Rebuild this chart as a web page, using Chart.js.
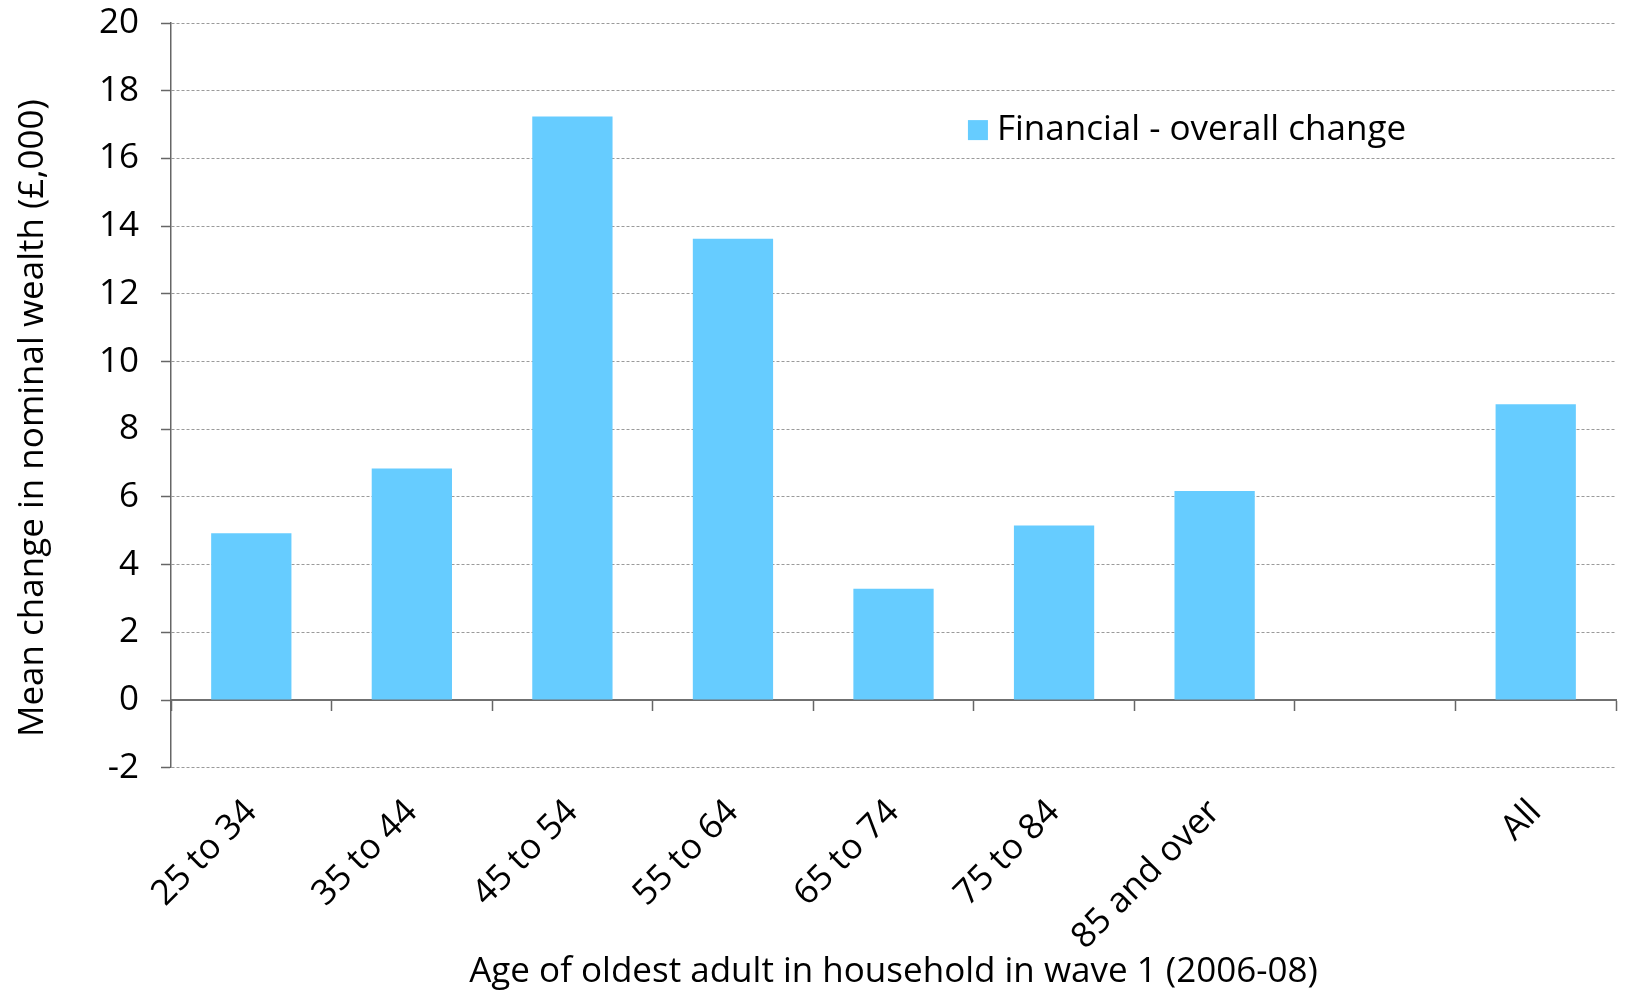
<!DOCTYPE html>
<html>
<head>
<meta charset="utf-8">
<script src="https://cdn.jsdelivr.net/npm/chart.js@4"></script>
<style>
  html, body { margin: 0; padding: 0; background: #fff; }
  #wrap { width: 1630px; height: 990px; }
</style>
</head>
<body>
<div id="wrap"><canvas id="chartRiqueza"></canvas></div>
<script>
// Categorias de edad (hueco vacio antes de "All")
const edades = ['25 to 34', '35 to 44', '45 to 54', '55 to 64', '65 to 74', '75 to 84', '85 and over', '', 'All'];
// Cambio medio en riqueza financiera nominal (miles de libras)
const financiero = [4.93, 6.84, 17.24, 13.63, 3.29, 5.16, 6.18, null, 8.74];
const serieNombre = 'Financial - overall change';

const fuente = "'Open Sans', sans-serif";
const tam = 35;
const gris = '#666666';

// Leyenda dibujada dentro del area del grafico
const leyendaInterna = {
  id: 'leyendaInterna',
  afterDraw(chart) {
    const { ctx, chartArea } = chart;
    const ds = chart.data.datasets[0];
    const x = chartArea.left + (chartArea.right - chartArea.left) * 0.5515;
    const y = chartArea.top + (chartArea.bottom - chartArea.top) * 0.1438;
    ctx.save();
    ctx.fillStyle = ds.backgroundColor;
    ctx.fillRect(x, y - 10, 20, 20);
    ctx.fillStyle = '#000';
    ctx.font = tam + 'px ' + fuente;
    ctx.textBaseline = 'middle';
    ctx.fillText(ds.label, x + 29, y);
    ctx.restore();
  }
};

new Chart(document.getElementById('chartRiqueza'), {
  type: 'bar',
  data: {
    labels: edades,
    datasets: [{
      label: serieNombre,
      data: financiero,
      backgroundColor: '#66CCFF',
      barPercentage: 0.5,
      categoryPercentage: 1
    }]
  },
  options: {
    responsive: true,
    maintainAspectRatio: false,
    animation: false,
    layout: { padding: { top: 0, right: 14, bottom: 0, left: 12 } },
    plugins: {
      legend: { display: false },
      tooltip: { enabled: false }
    },
    scales: {
      x: {
        grid: { display: false },
        border: { display: false },
        ticks: {
          color: '#000',
          font: { family: fuente, size: tam },
          maxRotation: 45,
          minRotation: 45,
          padding: 16
        },
        title: {
          display: true,
          text: 'Age of oldest adult in household in wave 1 (2006-08)',
          color: '#000',
          font: { family: fuente, size: tam, lineHeight: 1 },
          padding: { top: -19, bottom: 0 }
        }
      },
      // eje horizontal cruzando en cero, solo linea y marcas
      x0: {
        type: 'category',
        position: { y: 0 },
        ticks: { display: false },
        grid: {
          drawOnChartArea: false,
          drawTicks: true,
          tickLength: 10,
          tickColor: gris,
          tickWidth: 1.5
        },
        border: { display: true, color: '#707070', width: 2 }
      },
      y: {
        min: -2,
        max: 20,
        // el margen de las etiquetas no debe empujar el borde superior
        afterFit(scale) { scale.paddingTop = 23; },
        ticks: {
          stepSize: 2,
          color: '#000',
          font: { family: fuente, size: tam },
          padding: 22
        },
        grid: {
          color: '#9a9a9a',
          lineWidth: 1,
          tickLength: 10,
          tickColor: gris,
          tickWidth: 1.5,
          tickBorderDash: []
        },
        border: { display: true, color: gris, width: 1.5, dash: [3, 2] },
        title: {
          display: true,
          // espacios finales para bajar un poco el titulo
          text: 'Mean change in nominal wealth (£,000)\u00a0\u00a0\u00a0\u00a0\u00a0',
          color: '#000',
          font: { family: fuente, size: tam },
          padding: { top: 0, bottom: 23 }
        }
      }
    }
  },
  plugins: [leyendaInterna]
});
</script>
</body>
</html>
